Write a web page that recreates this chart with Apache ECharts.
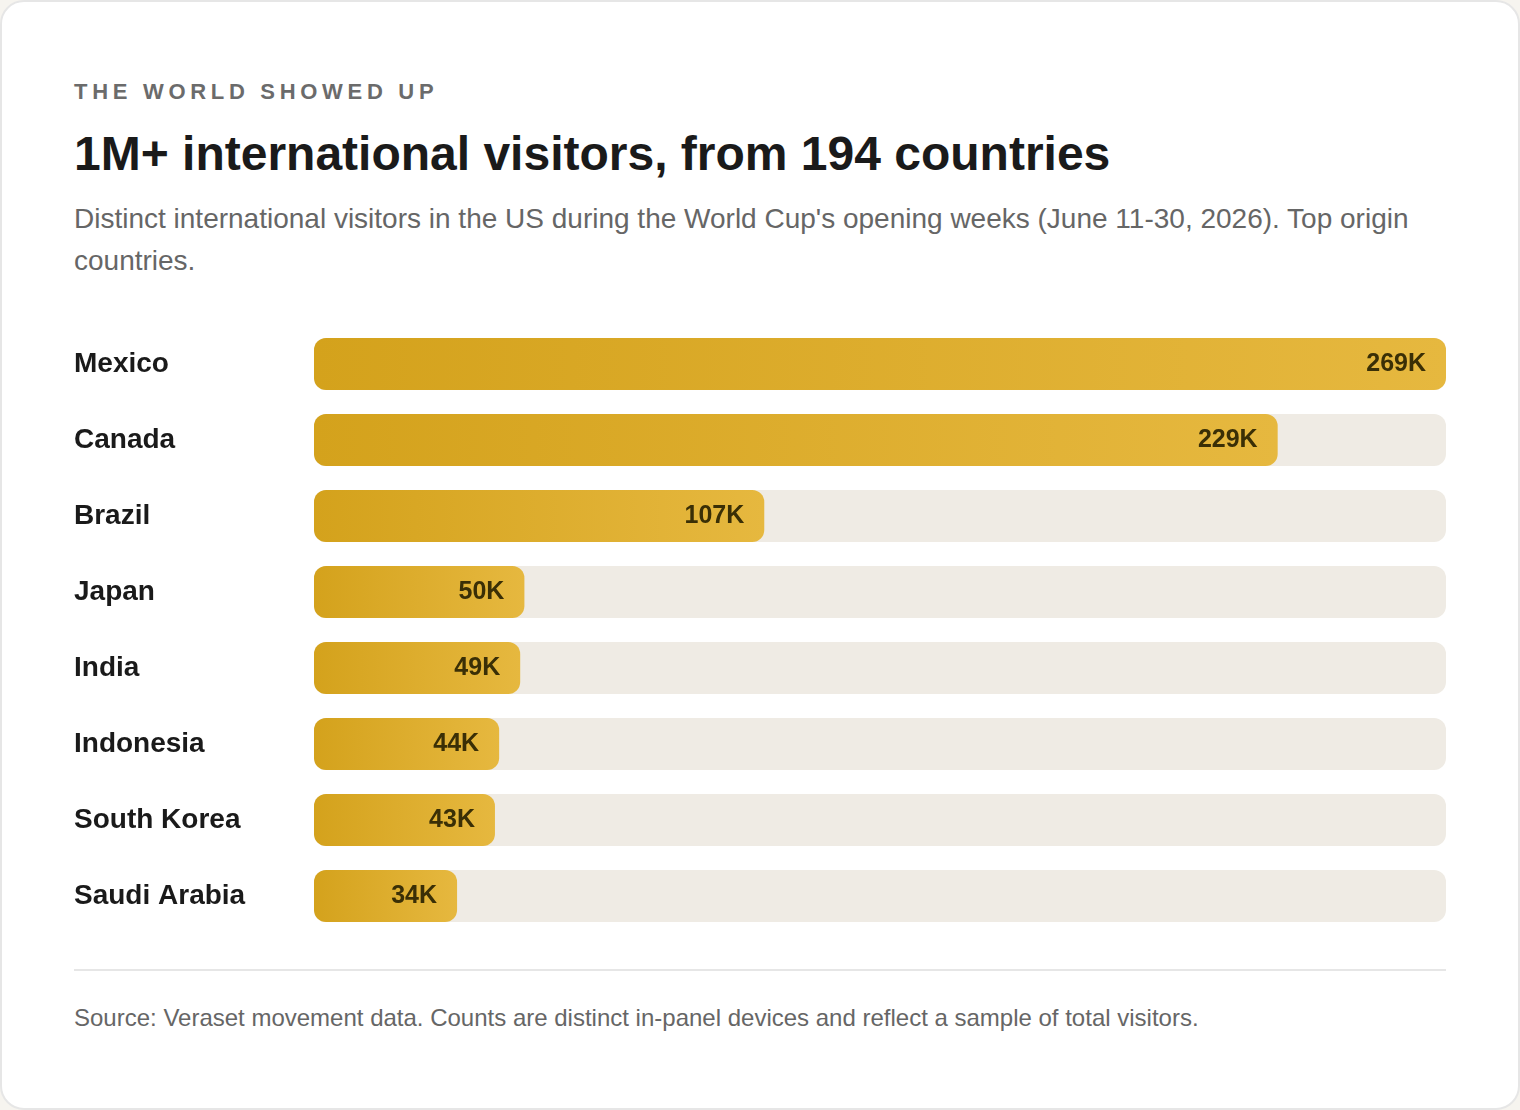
<!DOCTYPE html>
<html>
<head>
<meta charset="utf-8">
<title>1M+ international visitors</title>
<script src="https://cdn.jsdelivr.net/npm/echarts@6/dist/echarts.min.js"></script>
<style>
  html, body {
    margin: 0;
    padding: 0;
    background: #f6f4ef;
  }
  .card {
    position: relative;
    box-sizing: border-box;
    width: 1520px;
    height: 1110px;
    background: #fff;
    border: 2px solid #e6e6e6;
    border-radius: 24px;
    font-family: "Liberation Sans", Arial, sans-serif;
  }
  .card > * {
    position: absolute;
    left: 72px;
    margin: 0;
  }
  .eyebrow {
    top: 79px;
    font-size: 22px;
    line-height: 22px;
    font-weight: 700;
    letter-spacing: 4.7px;
    color: #6b6b6b;
  }
  .title {
    top: 124px;
    font-size: 48px;
    line-height: 56px;
    font-weight: 700;
    color: #1a1a1a;
  }
  .subtitle {
    top: 196px;
    width: 1372px;
    font-size: 28px;
    line-height: 42px;
    color: #666;
  }
  #chart {
    top: 324px;
    width: 1372px;
    height: 608px;
  }
  .rule {
    top: 967px;
    width: 1372px;
    height: 2px;
    background: #e6e6e6;
  }
  .source {
    top: 1001px;
    font-size: 24px;
    line-height: 30px;
    color: #666;
  }
</style>
</head>
<body>
<div class="card">
  <div class="eyebrow">THE WORLD SHOWED UP</div>
  <h1 class="title">1M+ international visitors, from 194 countries</h1>
  <p class="subtitle">Distinct international visitors in the US during the World Cup's opening weeks (June 11-30, 2026). Top origin countries.</p>
  <div id="chart"></div>
  <div class="rule"></div>
  <p class="source">Source: Veraset movement data. Counts are distinct in-panel devices and reflect a sample of total visitors.</p>
</div>

<script>
// top origin countries, distinct visitors in thousands
const countries = ['Mexico', 'Canada', 'Brazil', 'Japan', 'India', 'Indonesia', 'South Korea', 'Saudi Arabia']
const visitors = [269, 229, 107, 50, 49, 44, 43, 34]

const chart = echarts.init(document.getElementById('chart'))

const options = {
  animation: false,
  textStyle: {
    fontFamily: '"Liberation Sans", Arial, sans-serif'
  },
  grid: {
    left: 240,
    right: 0,
    top: 0,
    bottom: 0,
    outerBoundsMode: 'none'
  },
  xAxis: {
    type: 'value',
    min: 0,
    max: Math.max(...visitors),
    show: false
  },
  yAxis: {
    type: 'category',
    inverse: true,
    data: countries,
    axisLine: { show: false },
    axisTick: { show: false },
    axisLabel: {
      align: 'left',
      margin: 240,
      fontSize: 28,
      fontWeight: 'bold',
      color: '#1a1a1a',
      padding: [9, 0, 0, 0]
    }
  },
  series: [
    {
      type: 'bar',
      data: visitors,
      barWidth: 52,
      showBackground: true,
      backgroundStyle: {
        color: '#efebe4',
        borderRadius: 12
      },
      itemStyle: {
        borderRadius: 12,
        color: new echarts.graphic.LinearGradient(0, 0, 1, 0, [
          { offset: 0, color: '#d4a21c' },
          { offset: 1, color: '#e6b83f' }
        ])
      },
      label: {
        show: true,
        position: 'insideRight',
        distance: 20,
        formatter: '{c}K',
        fontSize: 25,
        fontWeight: 'bold',
        color: '#3a2f06',
        padding: [4, 0, 0, 0]
      }
    }
  ]
}

chart.setOption(options)
</script>
</body>
</html>
